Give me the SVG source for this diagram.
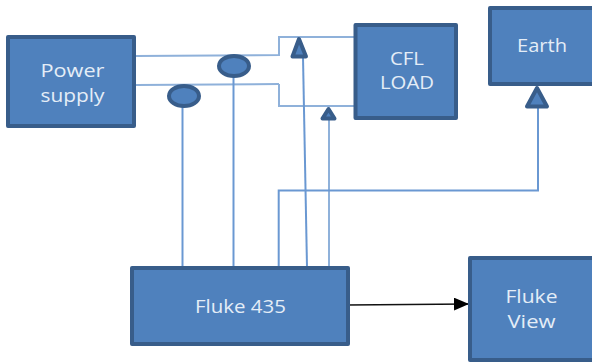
<svg xmlns="http://www.w3.org/2000/svg" width="592" height="363" viewBox="0 0 592 363">
<style>
.box{fill:#4f81bd;stroke:#385d8a;stroke-width:4;stroke-linejoin:round}
.lbl{font-family:"Open Sans","Liberation Sans",sans-serif;font-size:17.500px;fill:#e4edf7;text-anchor:middle}
.wire{fill:none;stroke:#6a98d2;stroke-width:2}
.soft{fill:none;stroke:#8fb1da;stroke-width:2}
.hd{fill:#4f81bd;stroke:#385d8a;stroke-width:4;stroke-linejoin:round}
</style>
<defs>
<marker id="arrow" markerUnits="userSpaceOnUse" markerWidth="15" markerHeight="13" refX="15" refY="6.5" orient="auto"><path d="M0 0L15 6.500L0 13Z" fill="#000"/></marker>
</defs>
<g id="connectors">
<path class="soft" d="M136 56L279 55V37H358"/>
<path class="soft" d="M136 85L279 84"/>
<path class="soft" d="M279 84V106H358"/>
<path class="wire" d="M182.500 106V267"/>
<path class="wire" d="M233.500 76V267"/>
<path class="wire" d="M303 57L307 267"/>
<path class="soft" d="M329 119V267"/>
<path class="wire" d="M278.700 267V190.500H538V107"/>
<path d="M347 305L469 304" fill="none" stroke="#111" stroke-width="1.500" marker-end="url(#arrow)"/>
<path class="hd" d="M299 39L306 56.500H292.500Z"/>
<path class="hd" d="M328.500 109L334.500 118.500H322.500Z"/>
<path class="hd" d="M537 88L547 106.500H527Z"/>
</g>
<g id="power-supply"><rect class="box" x="8" y="37" width="126" height="89"/><text class="lbl" x="72.500" y="77" textLength="64" lengthAdjust="spacingAndGlyphs">Power</text><text class="lbl" x="72.500" y="102" textLength="64" lengthAdjust="spacingAndGlyphs">supply</text></g>
<g id="sensor-1"><ellipse class="box" cx="184" cy="96" rx="15" ry="10"/></g>
<g id="sensor-2"><ellipse class="box" cx="234" cy="66" rx="15" ry="10"/></g>
<g id="cfl-load"><rect class="box" x="355.500" y="25" width="100.500" height="93"/><text class="lbl" x="407" y="65" textLength="34" lengthAdjust="spacingAndGlyphs">CFL</text><text class="lbl" x="407" y="89" textLength="54" lengthAdjust="spacingAndGlyphs">LOAD</text></g>
<g id="earth"><rect class="box" x="490" y="8" width="106" height="76"/><text class="lbl" x="542" y="52" textLength="50" lengthAdjust="spacingAndGlyphs">Earth</text></g>
<g id="fluke-435"><rect class="box" x="132" y="268" width="216" height="76"/><text class="lbl" x="240.500" y="313" textLength="91" lengthAdjust="spacingAndGlyphs">Fluke 435</text></g>
<g id="fluke-view"><rect class="box" x="470" y="258" width="126" height="102"/><text class="lbl" x="531.500" y="303" textLength="52" lengthAdjust="spacingAndGlyphs">Fluke</text><text class="lbl" x="531.500" y="328" textLength="48" lengthAdjust="spacingAndGlyphs">View</text></g>
</svg>
